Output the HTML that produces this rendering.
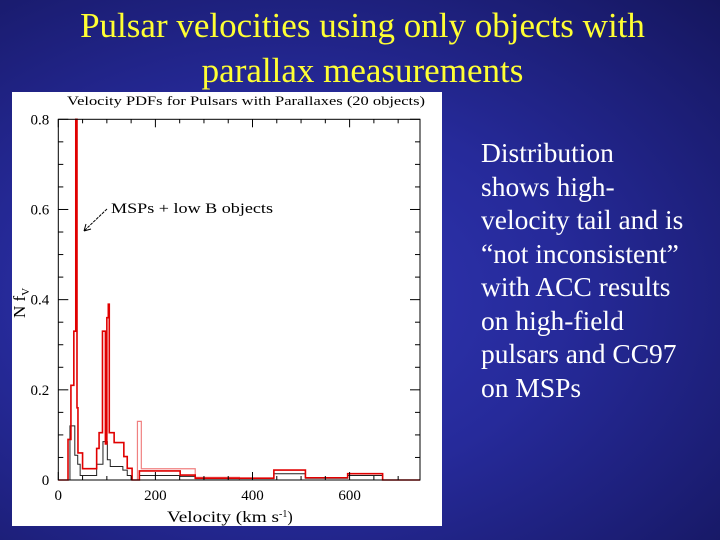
<!DOCTYPE html>
<html><head><meta charset="utf-8"><style>
body{margin:0;width:720px;height:540px;overflow:hidden;background:radial-gradient(ellipse at 40% 55%,#3036b4 0%,#262a9a 45%,#15165e 100%);font-family:"Liberation Serif",serif;position:relative}
.t{position:absolute;left:0;width:725px;text-align:center;color:#ffff33;font-size:35px;line-height:45px;top:3px}
.r{position:absolute;left:481px;top:136px;color:#fff;font-size:27.5px;line-height:33.5px}
svg{position:absolute;left:0;top:0}
</style></head><body>
<div class="t">Pulsar velocities using only objects with<br>parallax measurements</div>
<div class="r">Distribution<br>shows high-<br>velocity tail and is<br>“not inconsistent”<br>with ACC results<br>on high-field<br>pulsars and CC97<br>on MSPs</div>
<svg width="720" height="540" id="ch">
<rect x="12" y="92" width="430" height="434" fill="#fff"/>
<text x="67" y="105" font-size="13" textLength="358" lengthAdjust="spacingAndGlyphs" font-family="Liberation Serif">Velocity PDFs for Pulsars with Parallaxes   (20 objects)</text>
<text x="111" y="213" font-size="15" textLength="162" lengthAdjust="spacingAndGlyphs" font-family="Liberation Serif">MSPs + low B objects</text>
<line x1="107" y1="209" x2="84" y2="231" stroke="#000" stroke-width="1" stroke-dasharray="3,1"/>
<path d="M84 231 L86 224 M84 231 L91 229" stroke="#000" fill="none"/>
<text x="167" y="522" font-size="16" font-family="Liberation Serif"><tspan textLength="112" lengthAdjust="spacingAndGlyphs">Velocity  (km s</tspan><tspan font-size="10" dy="-5">-1</tspan><tspan dy="5">)</tspan></text>
<text transform="translate(25,318) rotate(-90)" font-size="17" font-family="Liberation Serif">N f<tspan font-size="11" dy="4">V</tspan></text>
<g id="g"></g>
</svg>
<script>
const xMin=0,xMax=745,yMin=0,yMax=0.8;
const xTicks=[0,200,400,600];
const yTicks=[0,0.2,0.4,0.6,0.8];
const redEdges=[0,20,26,32,36,38.5,40.5,44,50,79,84,91,97,100,103,105,115,135,142,152,167,251,282,444,509,596,668,745];
const redValues=[0,0.09,0.21,0.33,0.8,0.16,0.06,0.06,0.025,0.07,0.105,0.33,0.08,0.36,0.39,0.105,0.083,0.052,0.026,0,0.02,0.011,0.004,0.022,0.005,0.014,0];
const pinkEdges=[163,171,251,282,373];
const pinkValues=[0.13,0.025,0.025,0.006];
const blackEdges=[20,24,34,40,45,79,92,101,107,133,142,152,167,251,282,444,509,596,668];
const blackValues=[0,0.12,0.055,0.035,0.01,0.035,0.085,0.045,0.03,0.022,0.01,0,0.01,0.008,0.003,0.014,0.004,0.01,0];
const L=58.3,R=420,T=119.3,B=480;
function X(v){return L+(v-xMin)/(xMax-xMin)*(R-L);}
function Y(v){return B-(v-yMin)/(yMax-yMin)*(B-T);}
const g=document.getElementById('g');const NS='http://www.w3.org/2000/svg';
function mk(t,a){const e=document.createElementNS(NS,t);for(const k in a)e.setAttribute(k,a[k]);g.appendChild(e);return e;}
function step(ed,va){let d='M'+X(ed[0])+' '+Y(0);for(let i=0;i<va.length;i++){d+=' L'+X(ed[i])+' '+Y(va[i])+' L'+X(ed[i+1])+' '+Y(va[i]);}d+=' L'+X(ed[ed.length-1])+' '+Y(0);return d;}
let p=mk('path',{d:step(pinkEdges,pinkValues),fill:'none',stroke:'#f08080','stroke-width':1.2});


p=mk('path',{d:step(blackEdges,blackValues),fill:'none',stroke:'#222','stroke-width':1});


p=mk('path',{d:step(redEdges,redValues),fill:'none',stroke:'#e00000','stroke-width':1.6});


let fr=mk('rect',{x:L,y:T,width:R-L,height:B-T,fill:'none',stroke:'#000','stroke-width':1});


for(let v=0;v<=xMax;v+=50){const maj=v%200===0;const l=maj?8:4;
mk('line',{x1:X(v),x2:X(v),y1:B,y2:B-l,stroke:'#000'});mk('line',{x1:X(v),x2:X(v),y1:T,y2:T+l,stroke:'#000'});}
for(let i=0;i<=16;i++){const v=i*0.05;const maj=i%4===0;const l=maj?10:5;
mk('line',{x1:L,x2:L+l,y1:Y(v),y2:Y(v),stroke:'#000'});mk('line',{x1:R,x2:R-l,y1:Y(v),y2:Y(v),stroke:'#000'});}
xTicks.forEach(v=>{const t=mk('text',{x:X(v),y:B+20,'font-size':15,'text-anchor':'middle','font-family':'Liberation Serif'});t.textContent=v;

});
yTicks.forEach(v=>{const t=mk('text',{x:L-9,y:Y(v)+5,'font-size':15,'text-anchor':'end','font-family':'Liberation Serif'});t.textContent=v===0?'0':v.toFixed(1);

});
</script>
</body></html>
